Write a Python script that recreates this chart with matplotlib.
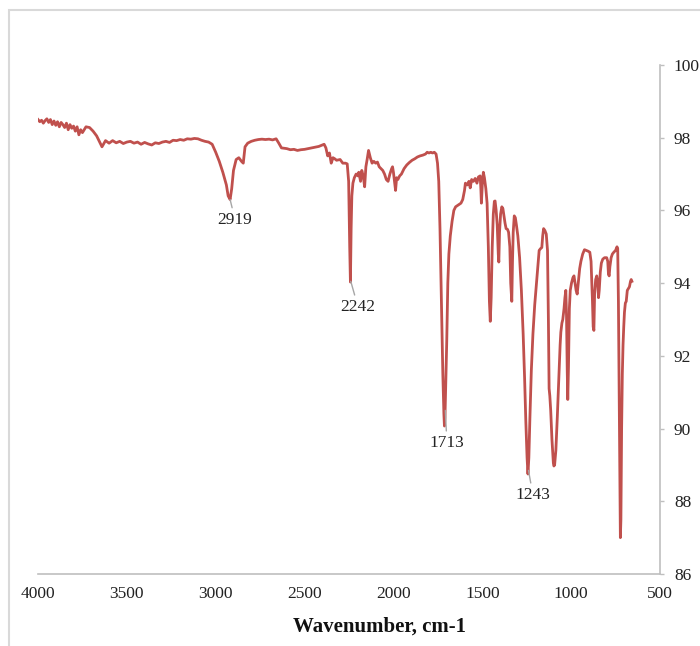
import matplotlib
matplotlib.use("Agg")
import matplotlib.pyplot as plt
from matplotlib.patches import Rectangle

# spectrum (wavenumber cm-1, transmittance %)
wavenumber = [
    4000, 3990, 3980, 3970, 3960, 3950, 3940, 3930, 3920, 3910, 3900, 3890, 3880, 3870,
    3860, 3850, 3840, 3830, 3820, 3810, 3800, 3790, 3780, 3770, 3760, 3750,
    3730, 3710, 3690, 3670, 3650, 3640, 3620, 3600, 3580, 3560, 3540, 3520, 3500, 3480,
    3460, 3440, 3420, 3400, 3380, 3360, 3340, 3320, 3300, 3280, 3260, 3240, 3220, 3200,
    3180, 3160, 3140, 3120, 3100, 3080, 3060, 3040, 3020, 3000, 2980, 2960, 2940, 2930,
    2919, 2910, 2900, 2885, 2870, 2855, 2845, 2835, 2820, 2800, 2780, 2760, 2740, 2720,
    2700, 2680, 2660, 2645, 2630, 2600, 2580, 2560, 2540, 2520, 2500, 2480, 2460, 2440,
    2420, 2400, 2390, 2380, 2370, 2360, 2350, 2340, 2330, 2320, 2300, 2285, 2270, 2260,
    2252, 2246, 2242, 2238, 2234, 2228, 2220, 2210, 2200, 2195, 2185, 2178, 2170, 2162,
    2155, 2148, 2140, 2130, 2120, 2110, 2100, 2090, 2080, 2070, 2060, 2050, 2040, 2030,
    2020, 2010, 2005, 2000, 1995, 1988, 1982, 1975, 1965, 1955, 1940, 1925, 1910, 1895,
    1880, 1865, 1850, 1835, 1820, 1810, 1800, 1790, 1780, 1770, 1760, 1752, 1745, 1738,
    1730, 1722, 1716, 1713, 1710, 1705, 1700, 1694, 1688, 1680, 1670, 1660, 1650, 1635,
    1620, 1610, 1600, 1595, 1585, 1575, 1568, 1560, 1550, 1540, 1530, 1522, 1512, 1508,
    1505, 1500, 1494, 1488, 1480, 1473, 1466, 1460, 1455, 1450, 1444, 1438, 1432, 1428,
    1422, 1416, 1410, 1407, 1403, 1397, 1390, 1384, 1378, 1372, 1366, 1358, 1352, 1345,
    1340, 1334, 1330, 1326, 1320, 1314, 1308, 1300, 1290, 1280, 1270, 1262, 1255, 1248,
    1243, 1238, 1232, 1224, 1215, 1205, 1195, 1187, 1180, 1172, 1165, 1160, 1155, 1148,
    1140, 1133, 1128, 1124, 1120, 1115, 1108, 1100, 1097, 1093, 1086, 1078, 1070, 1062,
    1058, 1052, 1047, 1040, 1035, 1030, 1026, 1022, 1019, 1015, 1010, 1005, 998, 990,
    984, 978, 972, 966, 960, 952, 945, 935, 925, 915, 905, 895, 888, 880,
    876, 872, 868, 862, 856, 850, 846, 842, 836, 830, 822, 812, 800, 794,
    790, 786, 782, 775, 768, 760, 750, 742, 738, 734, 730, 726, 723, 720,
    716, 712, 708, 704, 700, 695, 690, 684, 678, 672, 666, 662, 658,
]
transmittance = [
    98.50, 98.44, 98.48, 98.40, 98.47, 98.52, 98.42, 98.50, 98.36, 98.46, 98.34, 98.44, 98.30, 98.42,
    98.36, 98.28, 98.40, 98.22, 98.36, 98.26, 98.32, 98.18, 98.30, 98.08, 98.22, 98.14,
    98.30, 98.28, 98.18, 98.05, 97.85, 97.75, 97.92, 97.85, 97.92, 97.86, 97.90, 97.84, 97.88, 97.90,
    97.85, 97.88, 97.82, 97.87, 97.83, 97.80, 97.86, 97.84, 97.88, 97.90, 97.87, 97.93, 97.92, 97.95,
    97.93, 97.97, 97.96, 97.98, 97.97, 97.93, 97.90, 97.88, 97.82, 97.60, 97.35, 97.05, 96.70, 96.40,
    96.30, 96.60, 97.10, 97.40, 97.45, 97.35, 97.30, 97.75, 97.85, 97.90, 97.93, 97.95, 97.96, 97.95,
    97.96, 97.94, 97.97, 97.85, 97.72, 97.70, 97.67, 97.68, 97.65, 97.67, 97.68, 97.70, 97.72, 97.74,
    97.76, 97.80, 97.82, 97.72, 97.50, 97.58, 97.30, 97.45, 97.42, 97.38, 97.40, 97.30, 97.30, 97.28,
    96.80, 95.00, 94.03, 95.50, 96.40, 96.75, 96.90, 97.00, 96.95, 97.05, 96.80, 97.10, 96.95, 96.65,
    97.20, 97.40, 97.65, 97.45, 97.30, 97.35, 97.30, 97.33, 97.20, 97.15, 97.10, 97.00, 96.85, 96.80,
    97.00, 97.15, 97.20, 97.05, 96.85, 96.55, 96.90, 96.85, 96.95, 97.00, 97.15, 97.25, 97.32, 97.38,
    97.42, 97.47, 97.50, 97.52, 97.55, 97.60, 97.58, 97.60, 97.58, 97.60, 97.55, 97.30, 96.80, 95.50,
    93.50, 91.50, 90.40, 90.07, 90.30, 91.30, 92.40, 94.00, 94.80, 95.30, 95.70, 96.00, 96.10, 96.15,
    96.20, 96.30, 96.55, 96.75, 96.70, 96.80, 96.62, 96.85, 96.80, 96.88, 96.75, 96.92, 96.95, 96.60,
    96.20, 96.70, 97.05, 96.90, 96.60, 96.20, 95.00, 93.50, 92.95, 93.60, 95.00, 95.90, 96.25, 96.26,
    96.00, 95.60, 94.80, 94.58, 95.40, 95.90, 96.10, 96.05, 95.85, 95.65, 95.50, 95.48, 95.40, 95.00,
    94.00, 93.50, 94.60, 95.40, 95.85, 95.80, 95.60, 95.30, 94.70, 93.80, 92.60, 91.40, 90.20, 89.20,
    88.75, 89.20, 90.30, 91.60, 92.60, 93.40, 94.00, 94.50, 94.90, 94.95, 94.98, 95.30, 95.50, 95.45,
    95.35, 94.90, 93.00, 91.10, 90.90, 90.50, 89.70, 89.05, 88.97, 89.00, 89.40, 90.30, 91.30, 92.30,
    92.65, 92.90, 93.00, 93.30, 93.60, 93.80, 93.10, 91.60, 90.80, 91.70, 93.30, 93.80, 94.00, 94.15,
    94.20, 94.00, 93.80, 93.70, 94.00, 94.40, 94.60, 94.80, 94.92, 94.90, 94.88, 94.85, 94.60, 93.50,
    92.80, 92.70, 93.70, 94.10, 94.20, 94.00, 93.60, 93.80, 94.30, 94.55, 94.66, 94.70, 94.70, 94.60,
    94.25, 94.20, 94.45, 94.70, 94.80, 94.85, 94.90, 95.00, 94.95, 93.50, 91.00, 88.50, 87.00, 87.50,
    90.00, 91.50, 92.30, 92.80, 93.20, 93.45, 93.50, 93.80, 93.85, 93.90, 94.05, 94.10, 94.05,
]

# labelled peaks: (label, peak point, label position)
peak_labels = ["2919", "2242", "1713", "1243"]
peak_xy = [(2919, 96.30), (2240, 94.05), (1708, 90.50), (1240, 88.85)]
label_xy = [(2891, 95.74), (2199, 93.34), (1699, 89.60), (1215, 88.17)]

xticks = [4000, 3500, 3000, 2500, 2000, 1500, 1000, 500]
yticks = [86, 88, 90, 92, 94, 96, 98, 100]

serif = ["Liberation Serif", "DejaVu Serif"]
axis_grey = "#bfbfbf"

fig = plt.figure(figsize=(7, 6.46), dpi=100)
ax = fig.add_axes([38 / 700, 1 - 574 / 646, 622 / 700, 509 / 646])

ax.plot(wavenumber, transmittance, color="#C0504D", lw=2.0, solid_joinstyle="round")

ax.set_xlim(4000, 500)
ax.set_ylim(86, 100)
ax.set_xticks(xticks)
ax.set_yticks(yticks)
ax.yaxis.tick_right()

for side in ["top", "left"]:
    ax.spines[side].set_visible(False)
for side in ["bottom", "right"]:
    ax.spines[side].set_color(axis_grey)
    ax.spines[side].set_linewidth(1.2)

ax.tick_params(axis="x", length=0, pad=9, labelsize=12.5, labelcolor="#222222")
ax.tick_params(axis="y", length=3, width=1, color=axis_grey, pad=7, labelsize=12.5,
               labelcolor="#222222")
for lbl in ax.get_xticklabels() + ax.get_yticklabels():
    lbl.set_family(serif)

for txt, xy, xyt in zip(peak_labels, peak_xy, label_xy):
    ax.annotate(txt, xy=xy, xytext=xyt, ha="center", va="center", fontsize=12.5,
                family=serif, color="#222222",
                arrowprops=dict(arrowstyle="-", color="#a6a6a6", lw=1, shrinkA=1, shrinkB=0))

fig.text(380 / 700, 1 - 627 / 646, "Wavenumber, cm-1", ha="center", va="center",
         fontsize=15, fontweight="bold", family=serif, color="#111111")

# light frame around the chart area, running off the right and bottom edges
fig.patches.append(Rectangle((9 / 700, -0.05), 1.1, 0.05 + 1 - 10 / 646, fill=False,
                             edgecolor="#d9d9d9", lw=1.5, transform=fig.transFigure))

fig.savefig("out.png", dpi=100)
